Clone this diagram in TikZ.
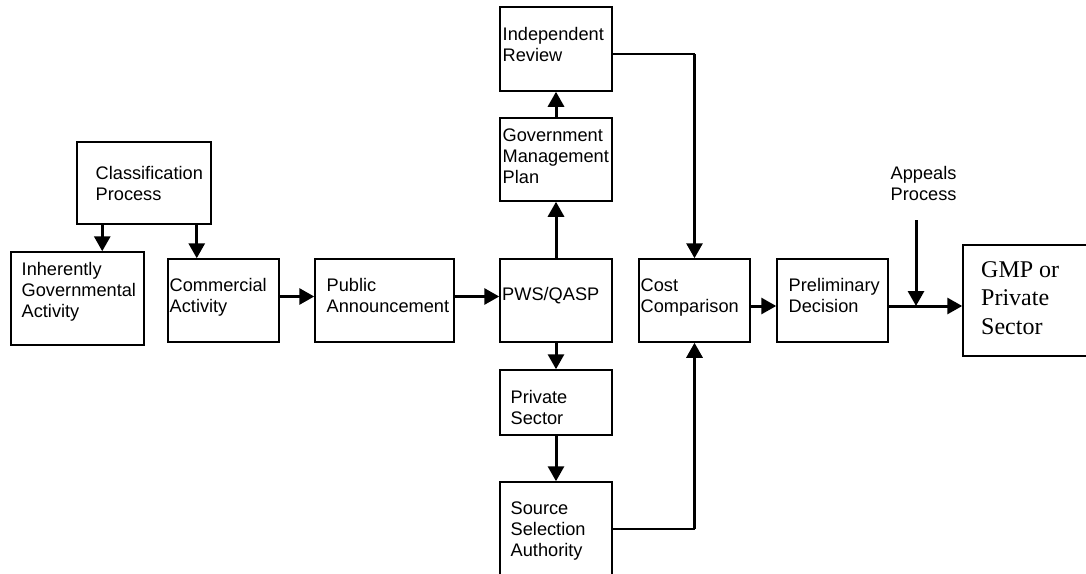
\documentclass[tikz,border=0pt]{standalone}
\usepackage{fontspec}
\setmainfont{Liberation Sans}
\newfontfamily\serifface{Liberation Serif}
\usetikzlibrary{arrows.meta,calc}

\tikzset{
  box/.style={draw, line width=1.5pt, inner sep=0pt},
  % multi-line labels are placed by the baseline of their last line
  txt/.style={anchor=base west, align=left, inner sep=0pt,
    font=\fontsize{18.2}{21}\selectfont},
  bigtxt/.style={anchor=base west, align=left, inner sep=0pt,
    font=\serifface\fontsize{24}{28.5}\selectfont},
  flow/.style={line width=3pt, -{Triangle[length=15pt,width=16pt]}},
  thin/.style={line width=1.5pt}
}

\begin{document}
\begin{tikzpicture}[x=1pt,y=-1pt]
  \useasboundingbox (0,0) rectangle (1086,573);
  \clip (0,0) rectangle (1086,573);

  % boxes
  \node[box, minimum width=134, minimum height=82] (cls)  at (144,183)   {};
  \node[box, minimum width=133, minimum height=93] (inh)  at (77.5,298.5) {};
  \node[box, minimum width=111, minimum height=83] (com)  at (223.5,300.5) {};
  \node[box, minimum width=139, minimum height=83] (pub)  at (384.5,300.5) {};
  \node[box, minimum width=112, minimum height=83] (pws)  at (556,300.5) {};
  \node[box, minimum width=112, minimum height=84] (ir)   at (556,49) {};
  \node[box, minimum width=112, minimum height=83] (gmpl) at (556,159.5) {};
  \node[box, minimum width=112, minimum height=65] (ps)   at (556,402.5) {};
  \node[box, minimum width=112, minimum height=108] (ssa) at (556,536) {};
  \node[box, minimum width=111, minimum height=83] (cost) at (694.5,300.5) {};
  \node[box, minimum width=111, minimum height=83] (pre)  at (832.5,300.5) {};
  \node[box, minimum width=140, minimum height=111] (gmp) at (1033,300.5) {};

  % labels
  \node[txt] (clsT)  at (95.5,200)  {Classification\\Process};
  \node[txt] (inhT)  at (21.5,317)  {Inherently\\Governmental\\Activity};
  \node[txt] (comT)  at (169.5,312) {Commercial\\Activity};
  \node[txt] (pubT)  at (326.5,312) {Public\\Announcement};
  \node[txt] (pwsT)  at (502,300)   {PWS/QASP};
  \node[txt] (irT)   at (502.5,61)  {Independent\\Review};
  \node[txt] (gmplT) at (502.5,183) {Government\\Management\\Plan};
  \node[txt] (psT)   at (510.5,424) {Private\\Sector};
  \node[txt] (ssaT)  at (510.5,556) {Source\\Selection\\Authority};
  \node[txt] (costT) at (640.5,312) {Cost\\Comparison};
  \node[txt] (preT)  at (788.5,312) {Preliminary\\Decision};
  \node[txt] (appT)  at (890.5,200) {Appeals\\Process};
  \node[bigtxt] (gmpT) at (981,334) {GMP or\\Private\\Sector};

  % connectors
  \draw[flow] ([xshift=26pt]cls.south west) -- ([xshift=26pt]cls.south west |- inh.north);
  \draw[flow] ([xshift=-15pt]cls.south east) -- ([xshift=-15pt]cls.south east |- com.north);
  \draw[flow] ([yshift=4pt]com.east) -- ([yshift=4pt]com.east -| pub.west);
  \draw[flow] ([yshift=4pt]pub.east) -- ([yshift=4pt]pub.east -| pws.west);
  \draw[flow] (pws.north) -- (gmpl.south);
  \draw[flow] (gmpl.north) -- (ir.south);
  \draw[flow] (pws.south) -- (ps.north);
  \draw[flow] (ps.south) -- (ssa.north);

  \coordinate (irOut) at ([yshift=-5pt]ir.east);
  \draw[thin] (irOut) -- (irOut -| cost.north);
  \draw[flow] (irOut -| cost.north) -- (cost.north);

  \coordinate (ssaOut) at ([yshift=7pt]ssa.east);
  \draw[thin] (ssaOut) -- (ssaOut -| cost.south);
  \draw[flow] (ssaOut -| cost.south) -- (cost.south);

  \draw[flow] ([yshift=-5.5pt]cost.east) -- ([yshift=-5.5pt]cost.east -| pre.west);
  \coordinate (preOut) at ([yshift=-5.5pt]pre.east);
  \draw[flow] (preOut) -- (preOut -| gmp.west);

  \coordinate (appTop) at (916,220);
  \draw[flow] (appTop) -- (appTop |- preOut);
\end{tikzpicture}
\end{document}
